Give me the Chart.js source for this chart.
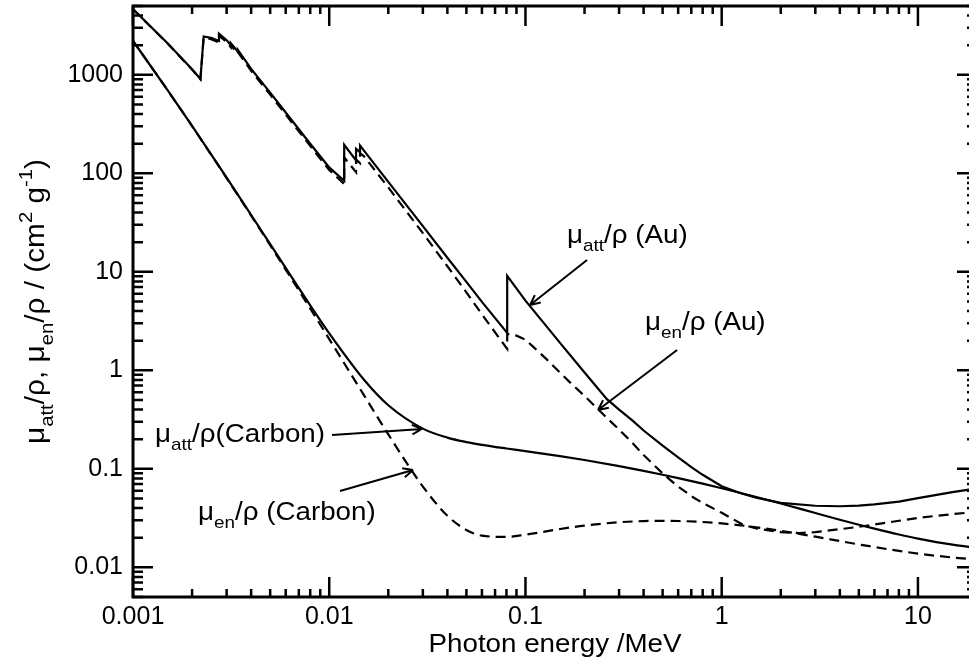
<!DOCTYPE html>
<html>
<head>
<meta charset="utf-8">
<script src="https://cdn.jsdelivr.net/npm/chart.js@4.4.1/dist/chart.umd.min.js"></script>
<style>
  html, body { margin: 0; padding: 0; background: #fff; overflow: hidden; }
  canvas { display: block; }
</style>
</head>
<body>
<canvas id="chart" width="990" height="663"></canvas>
<script>
// photon energy (MeV) and mass coefficients (cm2/g); edges appear as repeated energies
const auAttEnergy = [0.001, 0.0015, 0.002, 0.002206, 0.002291, 0.0025, 0.002743, 0.002743, 0.003, 0.003148, 0.003148,
  0.003425, 0.003425, 0.004, 0.005, 0.006, 0.008, 0.01, 0.01192, 0.01192, 0.0137, 0.0137, 0.01435, 0.01435, 0.015,
  0.02, 0.03, 0.04, 0.05, 0.06, 0.0807, 0.0807, 0.1, 0.15, 0.2, 0.26, 0.3, 0.354, 0.4, 0.5, 0.6, 0.7, 0.8, 1.0,
  1.25, 1.5, 2, 3, 4, 5, 6, 8, 10, 15, 20];
const auAttValues = [4650, 2090, 1140, 906, 2450, 2370, 2210, 2620, 2250, 2000, 2100,
  1720, 1790, 1150, 660, 415, 200, 115, 84, 195, 135, 177, 164, 192, 171,
  82, 29.1, 13.9, 7.9, 4.95, 2.4, 9.1, 5.1, 1.9, 0.95, 0.51, 0.40, 0.305, 0.245, 0.172, 0.131, 0.104, 0.087, 0.0665,
  0.0565, 0.051, 0.0452, 0.0422, 0.0417, 0.0423, 0.0435, 0.0465, 0.0505, 0.058, 0.0635];

const auEnEnergy = [0.001, 0.0015, 0.002, 0.002206, 0.002291, 0.0025, 0.002743, 0.002743, 0.003, 0.003148, 0.003148,
  0.003425, 0.003425, 0.004, 0.005, 0.006, 0.008, 0.01, 0.01192, 0.01192, 0.0137, 0.0137, 0.01435, 0.01435, 0.015,
  0.02, 0.03, 0.04, 0.05, 0.06, 0.0807, 0.0807, 0.09, 0.1, 0.11, 0.128, 0.15, 0.168, 0.2, 0.235, 0.3, 0.354, 0.4,
  0.5, 0.6, 0.715, 0.8, 1.0, 1.28, 1.5, 2, 2.5, 3, 4, 5, 6, 8, 10, 15, 20];
const auEnValues = [4640, 2080, 1130, 900, 2380, 2300, 2140, 2500, 2150, 1910, 2000,
  1640, 1700, 1100, 630, 395, 190, 108, 78, 145, 103, 138, 127, 160, 150,
  72, 24.7, 11.4, 6.2, 3.7, 1.65, 2.35, 2.25, 2.05, 1.72, 1.30, 0.95, 0.76, 0.55, 0.40, 0.25, 0.18, 0.138,
  0.090, 0.066, 0.0515, 0.045, 0.0358, 0.0272, 0.0248, 0.0228, 0.0223, 0.0228, 0.0244, 0.0258, 0.0272, 0.0297, 0.0318, 0.0347, 0.0366];

const carbonEnergy = [0.001, 0.0015, 0.002, 0.003, 0.004, 0.005, 0.006, 0.008, 0.01, 0.015, 0.02, 0.03, 0.04, 0.05,
  0.06, 0.08, 0.1, 0.15, 0.2, 0.3, 0.4, 0.5, 0.6, 0.8, 1, 1.25, 1.5, 2, 3, 4, 5, 6, 8, 10, 15, 20];
const carbonAttValues = [2211, 700.2, 302.6, 90.33, 37.78, 19.12, 10.95, 4.576, 2.373, 0.8071, 0.442, 0.2562, 0.2076, 0.1871,
  0.1753, 0.161, 0.1514, 0.1347, 0.1229, 0.1066, 0.09546, 0.08715, 0.08058, 0.07076, 0.06361, 0.0569, 0.05179, 0.04442,
  0.03562, 0.03047, 0.02708, 0.02469, 0.02154, 0.01959, 0.01698, 0.01575];
const carbonEnValues = [2209, 699, 301.6, 89.63, 37.23, 18.66, 10.54, 4.242, 2.078, 0.5627, 0.2238, 0.06614, 0.03343, 0.02397,
  0.02098, 0.02037, 0.02147, 0.02449, 0.02655, 0.0287, 0.0295, 0.02969, 0.02956, 0.02885, 0.02792, 0.02669, 0.02551, 0.02345,
  0.02048, 0.01849, 0.0171, 0.01607, 0.01468, 0.0138, 0.01258, 0.01198];

const xTickLabels = ['0.001', '0.01', '0.1', '1', '10'];
const yTickLabels = ['0.01', '0.1', '1', '10', '100', '1000'];

const FONT = '"Liberation Sans", Arial, Helvetica, sans-serif';
const STRETCH = 1.11;

function points(xs, ys) {
  return xs.map((x, i) => ({ x, y: ys[i] }));
}

function isDecade(v) {
  const l = Math.log10(v);
  return Math.abs(l - Math.round(l)) < 1e-9;
}

// 1..9 x 10^n between min and max
function logTicks(min, max) {
  const out = [];
  for (let e = Math.floor(Math.log10(min)); e <= Math.ceil(Math.log10(max)); e++) {
    for (let m = 1; m <= 9; m++) {
      const v = Number((m * Math.pow(10, e)).toPrecision(6));
      if (v >= min * 0.9999 && v <= max * 1.0001) out.push({ value: v });
    }
  }
  return out;
}

function labelFor(value, labels) {
  const hit = labels.find(l => Math.abs(Math.log10(parseFloat(l)) - Math.log10(value)) < 1e-6);
  return hit === undefined ? '' : hit;
}

// text runs: [text, shift] with shift -1 = subscript, 1 = superscript
function richWidth(ctx, runs, size) {
  let w = 0;
  for (const [t, s] of runs) {
    ctx.font = `${s ? Math.round(size * 0.68) : size}px ${FONT}`;
    w += ctx.measureText(t).width;
  }
  return w;
}

function drawRich(ctx, runs, size) {
  let cx = 0;
  for (const [t, s] of runs) {
    ctx.font = `${s ? Math.round(size * 0.68) : size}px ${FONT}`;
    const dy = s < 0 ? size * 0.32 : s > 0 ? -size * 0.42 : 0;
    ctx.fillText(t, cx, dy);
    cx += ctx.measureText(t).width;
  }
}

const notes = [
  { runs: [['μ', 0], ['att', -1], ['/ρ (Au)', 0]], at: [0.163, 19.6], tail: [0.206, 13.2], tip: [0.1055, 4.61] },
  { runs: [['μ', 0], ['en', -1], ['/ρ (Au)', 0]], at: [0.4066, 2.57], tail: [0.5925, 1.61], tip: [0.2344, 0.396] },
  { runs: [['μ', 0], ['att', -1], ['/ρ(Carbon)', 0]], at: [0.001295, 0.1873], tail: [0.01033, 0.2207], tip: [0.0297, 0.254] },
  { runs: [['μ', 0], ['en', -1], ['/ρ (Carbon)', 0]], at: [0.002145, 0.03025], tail: [0.01135, 0.0596], tip: [0.02673, 0.0973] }
];

const yTitle = [['μ', 0], ['att', -1], ['/ρ, μ', 0], ['en', -1], ['/ρ / (cm', 0], ['2', 1], [' g', 0], ['-1', 1], [')', 0]];

const frame = {
  id: 'frame',
  afterDraw(chart) {
    const { ctx, chartArea: a, scales: { x, y } } = chart;
    ctx.save();
    ctx.strokeStyle = '#000';
    ctx.lineWidth = 2.5;
    ctx.beginPath();
    for (const t of x.ticks) {
      const p = x.getPixelForValue(t.value);
      const len = isDecade(t.value) ? 20 : 8;
      ctx.moveTo(p, a.bottom); ctx.lineTo(p, a.bottom - len);
      ctx.moveTo(p, a.top); ctx.lineTo(p, a.top + len);
    }
    for (const t of y.ticks) {
      const p = y.getPixelForValue(t.value);
      const len = isDecade(t.value) ? 20 : 10;
      ctx.moveTo(a.left, p); ctx.lineTo(a.left + len, p);
      ctx.moveTo(a.right, p); ctx.lineTo(a.right - len, p);
    }
    ctx.stroke();
    ctx.lineWidth = 3;
    ctx.strokeRect(a.left, a.top, a.right - a.left, a.bottom - a.top);

    // labels with arrows
    ctx.fillStyle = '#000';
    ctx.textBaseline = 'alphabetic';
    ctx.textAlign = 'left';
    ctx.lineWidth = 2;
    for (const n of notes) {
      ctx.save();
      ctx.translate(x.getPixelForValue(n.at[0]), y.getPixelForValue(n.at[1]));
      ctx.scale(STRETCH, 1);
      drawRich(ctx, n.runs, 25);
      ctx.restore();

      const x0 = x.getPixelForValue(n.tail[0]), y0 = y.getPixelForValue(n.tail[1]);
      const x1 = x.getPixelForValue(n.tip[0]), y1 = y.getPixelForValue(n.tip[1]);
      const ang = Math.atan2(y1 - y0, x1 - x0);
      ctx.beginPath();
      ctx.moveTo(x0, y0);
      ctx.lineTo(x1, y1);
      for (const d of [0.45, -0.45]) {
        ctx.moveTo(x1, y1);
        ctx.lineTo(x1 - 11 * Math.cos(ang + d), y1 - 11 * Math.sin(ang + d));
      }
      ctx.stroke();
    }

    // axis titles
    const tx = (a.left + a.right) / 2;
    ctx.save();
    ctx.translate(tx, 652);
    ctx.scale(STRETCH, 1);
    const xt = [['Photon energy /MeV', 0]];
    ctx.translate(-richWidth(ctx, xt, 25) / 2, 0);
    drawRich(ctx, xt, 25);
    ctx.restore();

    ctx.save();
    ctx.translate(44, (a.top + a.bottom) / 2);
    ctx.rotate(-Math.PI / 2);
    const w = richWidth(ctx, yTitle, 25);
    ctx.scale(285 / w, STRETCH);
    ctx.translate(-w / 2, 0);
    drawRich(ctx, yTitle, 25);
    ctx.restore();

    ctx.restore();
  }
};

function fixBox(size) {
  return scale => {
    if (scale.isHorizontal()) scale.height = size; else scale.width = size;
    scale.paddingLeft = scale.paddingRight = scale.paddingTop = scale.paddingBottom = 0;
  };
}

const solid = { borderColor: '#000', borderWidth: 2.2, pointRadius: 0, fill: false };
const dashed = { ...solid, borderDash: [10, 6] };

new Chart(document.getElementById('chart'), {
  type: 'line',
  data: {
    datasets: [
      { ...solid, label: 'μatt/ρ (Au)', data: points(auAttEnergy, auAttValues), tension: 0 },
      { ...dashed, label: 'μen/ρ (Au)', data: points(auEnEnergy, auEnValues), tension: 0 },
      { ...solid, label: 'μatt/ρ (Carbon)', data: points(carbonEnergy, carbonAttValues), cubicInterpolationMode: 'monotone' },
      { ...dashed, label: 'μen/ρ (Carbon)', data: points(carbonEnergy, carbonEnValues), cubicInterpolationMode: 'monotone' }
    ]
  },
  options: {
    responsive: false,
    animation: false,
    layout: { padding: { top: 6, right: 13, left: 0, bottom: 0 } },
    plugins: { legend: { display: false }, tooltip: { enabled: false } },
    scales: {
      x: {
        type: 'logarithmic',
        min: 0.001,
        max: 20,
        grid: { display: false, drawTicks: false },
        border: { display: false },
        afterBuildTicks: s => { s.ticks = logTicks(s.min, s.max); },
        afterFit: fixBox(66),
        ticks: {
          autoSkip: false,
          maxRotation: 0,
          padding: 5,
          color: '#000',
          font: { family: FONT, size: 25 },
          callback: v => labelFor(v, xTickLabels)
        }
      },
      y: {
        type: 'logarithmic',
        min: 0.005,
        max: 5000,
        grid: { display: false, drawTicks: false },
        border: { display: false },
        afterBuildTicks: s => { s.ticks = logTicks(s.min, s.max); },
        afterFit: fixBox(133),
        ticks: {
          autoSkip: false,
          padding: 10,
          color: '#000',
          font: { family: FONT, size: 25 },
          callback: v => labelFor(v, yTickLabels)
        }
      }
    }
  },
  plugins: [frame]
});
</script>
</body>
</html>
